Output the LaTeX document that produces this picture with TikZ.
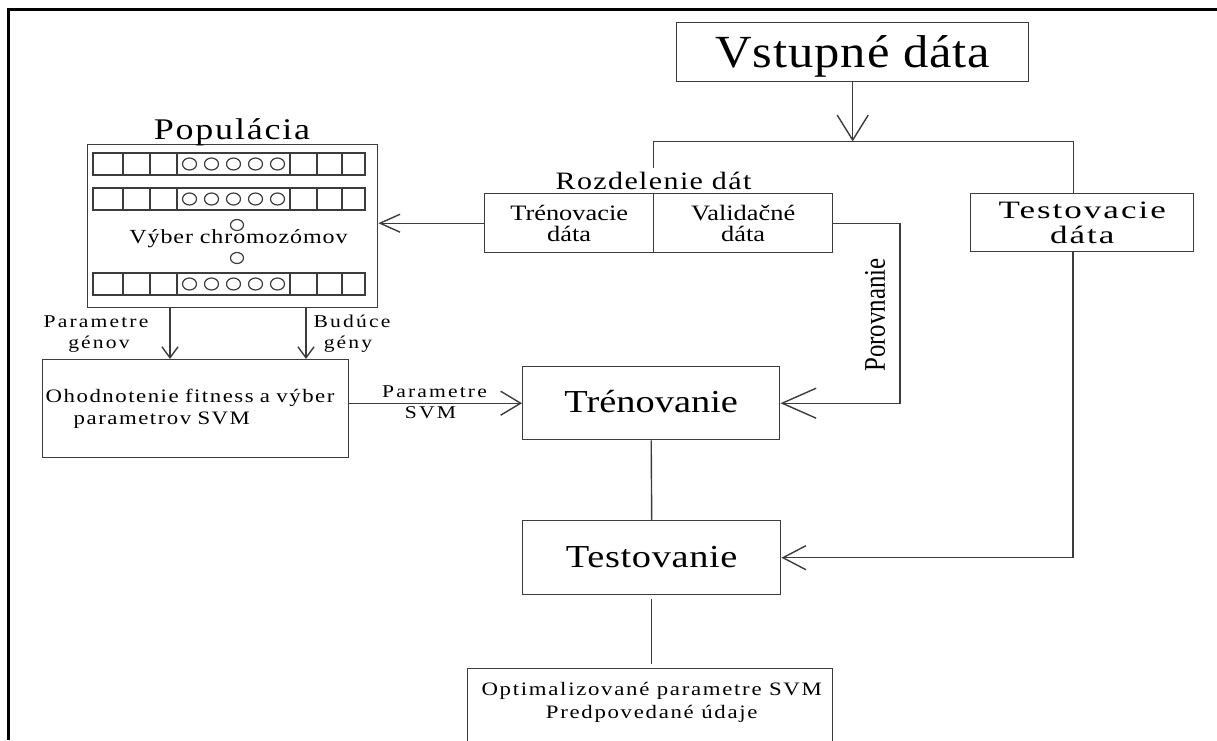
\documentclass[tikz,border=0pt]{standalone}
\usepackage{fontspec}
\setmainfont{Liberation Serif}
\usetikzlibrary{arrows.meta,calc}
% size, line skip, horizontal stretch, letter spacing
\newcommand\lsfont[4]{\fontsize{#1}{#2}\selectfont\addfontfeatures{FakeStretch=#3,LetterSpace=#4}}
\definecolor{ink}{RGB}{60,60,60}
\begin{document}
\begin{tikzpicture}[x=1pt,y=-1pt,
  line/.style={draw=ink, line width=1.4pt},
  box/.style={draw=ink, line width=1.4pt, inner sep=0pt, anchor=north west, align=center},
  lbl/.style={inner sep=0pt, font=\lsfont{18}{18}{1.2}{12}},
  gene/.style={draw=ink, line width=1.2pt}]
\useasboundingbox (0,0) rectangle (1217,740);
\fill[white] (0,0) rectangle (1217,740);

% open frame
\draw[line width=3.2pt, black] (8.3,740) -- (8.3,9.5) -- (1217,9.5);

% input data and its split
\node[box, minimum width=352, minimum height=59, text height=31, text depth=0,
      font=\lsfont{46}{46}{1.1}{2}] (vstup) at (676,22) {Vstupné dáta};
\coordinate (split) at ($(vstup.south)+(0,59)$);
\draw[line, -{Straight Barb[length=25pt,width=31pt]}] (vstup.south) -- (split);

\node[inner sep=3pt, anchor=base, font=\lsfont{25}{25}{1.2}{5.5}] (rozd) at (653.5,189) {Rozdelenie dát};
\node[box, minimum width=169, minimum height=59, font=\lsfont{22}{21}{1.2}{0}] (trn) at (484,193) {Trénovacie\\dáta};
\node[box, minimum width=179, minimum height=59, font=\lsfont{22}{21}{1.2}{0}] (val) at (653,193) {Validačné\\dáta};
\node[box, minimum width=223, minimum height=58, font=\lsfont{25}{24.5}{1.4}{8}] (testd) at (970,193) {Testovacie\\dáta};

\draw[line] (split) -| (rozd.north);
\draw[line] (split) -| ([xshift=-8.5pt]testd.north);

% population of chromosomes
\node[box, minimum width=290, minimum height=163] (pop) at (87,144) {};
\node[inner sep=0pt, anchor=base, font=\lsfont{30}{30}{1.2}{6}] (poplbl) at (232,139) {Populácia};
\foreach \ry in {153,188,273} {
  \draw[gene] (93,\ry) rectangle (365,\ry+22);
  \foreach \dx in {123,150,177,290,317,342}
    \draw[gene] (\dx,\ry) -- (\dx,\ry+22);
  \foreach \cx in {189.5,211.5,233.5,255.5,277.5}
    \draw[gene] (\cx,\ry+11) ellipse [x radius=7pt, y radius=6pt];
}
\draw[gene] (237,225) ellipse [x radius=6.5pt, y radius=5.5pt];
\draw[gene] (237,258) ellipse [x radius=6.5pt, y radius=5.5pt];
\node[inner sep=0pt, anchor=base, font=\lsfont{20}{20}{1.2}{4.5}] (vyber) at (238.5,243) {Výber chromozómov};

\draw[line, -{Straight Barb[length=20pt,width=18pt]}] (trn.west) -- (trn.west -| pop.east);

% fitness evaluation
\node[box, minimum width=306, minimum height=98, text width=300, align=left,
      font=\lsfont{19}{22}{1.2}{8}] (ohod) at (42,359) {Ohodnotenie fitness a výber\\\hspace*{28pt}parametrov SVM};
\coordinate (g1) at (170,0);
\coordinate (g2) at (306,0);
\draw[line, -{Straight Barb[length=11pt,width=16pt]}] (pop.south -| g1) -- (ohod.north -| g1);
\draw[line, -{Straight Barb[length=11pt,width=16pt]}] (pop.south -| g2) -- (ohod.north -| g2);
\node[lbl, anchor=base] (pg1) at (96,327) {Parametre};
\node[lbl, anchor=base] (pg2) at (99,348) {génov};
\node[lbl, anchor=base] (bg1) at (352,327) {Budúce};
\node[lbl, anchor=base] (bg2) at (348,348) {gény};

% training and testing
\node[box, minimum width=257, minimum height=73, text height=22, text depth=3,
      font=\lsfont{32}{32}{1.2}{0}] (tren) at (522,366) {Trénovanie};
\node[box, minimum width=258, minimum height=74, text height=22, text depth=2,
      font=\lsfont{32}{32}{1.2}{2}] (testo) at (522,520) {Testovanie};
\node[box, minimum width=365, minimum height=110] (opt) at (467,668) {};
\node[anchor=north, inner sep=0pt, align=center, font=\lsfont{19}{23}{1.2}{9}] (opttxt)
      at ($(opt.north)+(1.5,14)$) {Optimalizované parametre SVM\\Predpovedané údaje};

\draw[line, -{Straight Barb[length=20pt,width=24pt]}] (ohod.east |- tren) -- (tren.west);
\node[lbl, anchor=base] (ps1) at (434.5,397) {Parametre};
\node[lbl, anchor=base] (ps2) at (430.5,418) {SVM};

\coordinate (pv) at (900,0);
\draw[line, -{Straight Barb[length=34pt,width=30pt]}] (val.east) -- (val.east -| pv) -- (tren.east -| pv) -- (tren.east);
\node[rotate=90, inner sep=0pt, font=\fontsize{30}{30}\selectfont] (porov) at (875,315) {\scalebox{0.83}[1]{Porovnanie}};

\draw[line] (tren.south) -- (testo.north);
\draw[line, shorten <=4pt, shorten >=4pt] (testo.south) -- (testo.south |- opt.north);

\coordinate (tv) at (1073,0);
\draw[line, -{Straight Barb[length=23pt,width=24pt]}] (testd.south -| tv) |- (testo.east);
\end{tikzpicture}
\end{document}
